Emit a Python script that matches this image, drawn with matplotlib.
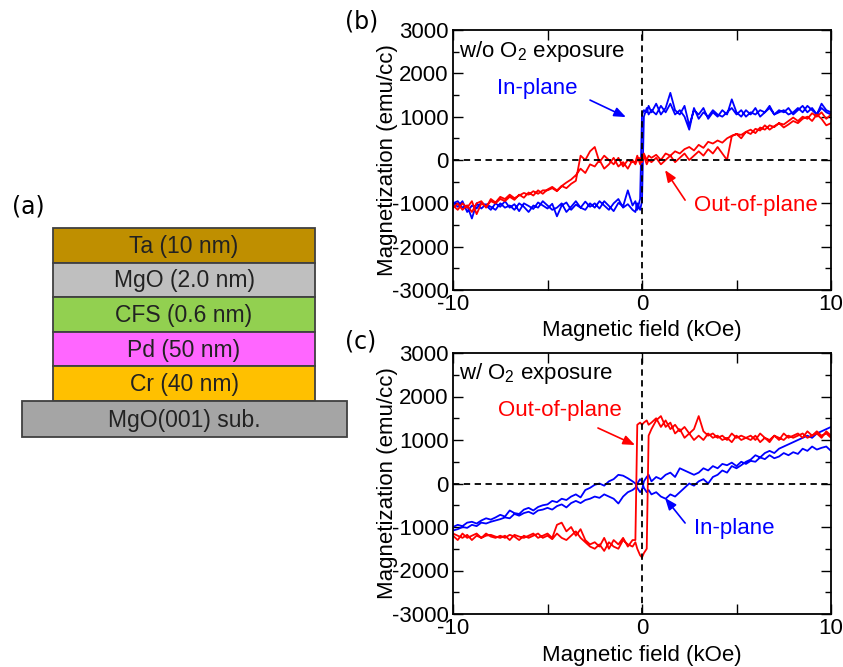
import matplotlib
matplotlib.use('Agg')
import matplotlib.pyplot as plt
from matplotlib.patches import Rectangle

plt.rcParams['font.family'] = ['Liberation Sans', 'DejaVu Sans']
plt.rcParams['mathtext.fontset'] = 'custom'
plt.rcParams['mathtext.rm'] = 'Liberation Sans'
plt.rcParams['mathtext.default'] = 'regular'
plt.rcParams['axes.unicode_minus'] = False

# film stack, top to bottom
layers = ['Ta (10 nm)', 'MgO (2.0 nm)', 'CFS (0.6 nm)', 'Pd (50 nm)', 'Cr (40 nm)']
layer_colors = ['#bf8f00', '#bfbfbf', '#92d050', '#ff66ff', '#ffc000']
substrate = 'MgO(001) sub.'
substrate_color = '#a5a5a5'

# field grid (kOe), shared by all sweeps
field = [-10, -9.75, -9.5, -9.25, -9, -8.75, -8.5, -8.25, -8, -7.75,
         -7.5, -7.25, -7, -6.75, -6.5, -6.25, -6, -5.75, -5.5, -5.25,
         -5, -4.75, -4.5, -4.25, -4, -3.75, -3.5, -3.25, -3, -2.75,
         -2.5, -2.25, -2, -1.75, -1.5, -1.25, -1, -0.75, -0.5,
         -0.35, -0.25, -0.1, 0, 0.1, 0.25, 0.35,
         0.5, 0.75, 1, 1.25, 1.5, 1.75, 2, 2.25, 2.5, 2.75,
         3, 3.25, 3.5, 3.75, 4, 4.25, 4.5, 4.75, 5, 5.25,
         5.5, 5.75, 6, 6.25, 6.5, 6.75, 7, 7.25, 7.5, 7.75,
         8, 8.25, 8.5, 8.75, 9, 9.25, 9.5, 9.75, 10]

# (b) w/o O2 exposure, emu/cc ; "down" = sweep from +10, "up" = sweep from -10
b_inplane_down = [-980, -1080, -950, -1200, -1050, -1120, -980, -1050, -1150, -1000,
                  -1080, -950, -1100, -1020, -1180, -1000, -1060, -1130, -980, -1050,
                  -1120, -1010, -1300, -1050, -980, -1150, -1030, -1100, -960, -1080,
                  -1000, -1120, -950, -1060, -1180, -990, -1070, -700, -1050,
                  -950, -1150, -900, 1050, 1150, 1100, 1250,
                  1100, 1300, 1050, 1200, 1550, 1150, 1050, 1250, 800, 1150,
                  1050, 1200, 950, 1100, 1000, 1150, 1050, 1400, 1100, 1000,
                  1150, 1050, 1200, 1000, 1100, 1250, 1050, 1150, 1100, 1200,
                  1050, 1150, 1250, 1100, 1200, 1050, 1300, 1150, 1100]
b_inplane_up = [-1000, -950, -1100, -1050, -1350, -1000, -1120, -1020, -1080, -1150,
                -1000, -1100, -1050, -1150, -1000, -1080, -1200, -1050, -1100, -950,
                -1050, -1150, -1100, -1000, -1200, -1080, -950, -1100, -1150, -1000,
                -1100, -950, -1050, -1150, -1000, -900, -1100, -1020, -1150,
                -1200, -1000, -1150, -950, 1000, 1200, 1050,
                1150, 1050, 1250, 1100, 1300, 1050, 1150, 1000, 700, 1200,
                950, 1100, 1000, 1150, 1050, 1000, 1100, 1200, 1050, 1150,
                1000, 1100, 1050, 1150, 1100, 1200, 1050, 1100, 1150, 1050,
                1100, 1200, 1100, 1250, 1150, 1050, 1200, 1100, 1050]
b_outplane_down = [-1100, -1000, -1150, -1050, -1200, -1000, -950, -1100, -900, -980,
                   -850, -900, -800, -880, -820, -760, -800, -720, -780, -700,
                   -700, -650, -720, -600, -650, -550, -480, 100, 0, 200,
                   300, -50, 100, 0, -100, 50, -150, 0, -50,
                   -50, 100, -100, 50, 150, 0, 100,
                   50, 120, 0, 150, 100, 200, 150, 250, 300, 220,
                   350, 280, 420, 380, 450, 400, 500, 560, 600, 580,
                   650, 700, 620, 750, 700, 800, 760, 850, 820, 900,
                   980, 900, 1000, 950, 1080, 1000, 1100, 950, 1050]
b_outplane_up = [-1050, -1150, -1000, -1100, -950, -1250, -1000, -1080, -950, -1000,
                 -900, -950, -850, -920, -800, -870, -750, -820, -700, -780,
                 -680, -620, -700, -600, -520, -450, -350, -200, -300, -100,
                 -150, 0, -200, -100, 50, -150, -50, -200, 0,
                 -100, 0, 50, -50, 100, -100, 0,
                 -50, 50, -100, 0, 100, -50, 50, 150, 0, 100,
                 200, 100, 250, 150, 300, 150, 0, 550, 600, 500,
                 650, 600, 720, 680, 800, 700, 780, 850, 750, 820,
                 900, 850, 950, 1000, 900, 1050, 950, 800, 850]

# (c) w/ O2 exposure
c_inplane_down = [-1000, -950, -980, -900, -880, -920, -850, -800, -830, -780,
                  -720, -760, -620, -680, -700, -600, -560, -620, -540, -500,
                  -480, -400, -430, -350, -380, -300, -250, -320, -150, -100,
                  -30, 0, -50, 50, 100, 200, 180, 120, 50,
                  0, -100, -200, -150, 50, 150, 200,
                  50, 150, 100, 200, 250, 150, 350, 300, 250, 200,
                  250, 350, 300, 400, 350, 450, 420, 480, 400, 500,
                  450, 520, 500, 600, 560, 650, 580, 620, 700, 650,
                  720, 680, 800, 750, 850, 780, 820, 850, 750]
c_inplane_up = [-1080, -1050, -1000, -1020, -950, -980, -900, -920, -880, -850,
                -820, -780, -800, -700, -740, -680, -650, -700, -620, -600,
                -560, -600, -520, -480, -550, -450, -400, -450, -380, -350,
                -300, -330, -250, -300, -350, -460, -300, -200, -150,
                -100, 0, 100, 50, -100, -200, -150,
                -250, -200, -300, -350, -250, -300, -200, -100, 0, -50,
                50, 100, 0, 150, 200, 300, 250, 400, 350, 420,
                500, 550, 650, 600, 700, 750, 700, 800, 850, 900,
                950, 1000, 1050, 1100, 1050, 1150, 1200, 1250, 1300]
c_outplane_down = [-1200, -1300, -1150, -1250, -1200, -1150, -1250, -1200, -1180, -1220,
                   -1250, -1200, -1300, -1180, -1220, -1250, -1200, -1150, -1250, -1200,
                   -1150, -1250, -950, -900, -1100, -1000, -1200, -1050, -1300, -1400,
                   -1350, -1450, -1250, -1500, -1300, -1400, -1250, -1450, -1300,
                   -1300, 1350, 1400, 1350, 1400, 1450, 1350,
                   1400, 1500, 1300, 1450, 1250, 1350, 1200, 1300, 1150, 1250,
                   1550, 1200, 1100, 1150, 1050, 1100, 1000, 1150, 1050, 1100,
                   1050, 1100, 1000, 1150, 1050, 950, 1100, 1000, 1150, 1050,
                   1100, 1150, 1050, 1200, 1100, 1150, 1050, 1200, 1100]
c_outplane_up = [-1150, -1200, -1250, -1180, -1300, -1200, -1250, -1150, -1220, -1250,
                 -1200, -1250, -1180, -1220, -1300, -1200, -1250, -1200, -1150, -1250,
                 -1200, -1280, -1150, -1250, -1300, -1200, -1100, -1250, -1350, -1450,
                 -1500, -1400, -1550, -1350, -1450, -1500, -1300, -1400, -1450,
                 -1350, -1500, -1650, -1700, -1600, -1500, 1100,
                 1250, 1450, 1550, 1300, 1400, 1150, 1250, 1050, 1150, 1000,
                 1100, 1000, 1150, 1050, 1100, 1000, 1050, 950, 1100, 1000,
                 1050, 1000, 1100, 950, 1050, 1000, 1100, 1050, 1000, 1100,
                 1050, 1100, 1150, 1050, 1100, 1200, 1100, 1150, 1050]

fig = plt.figure(figsize=(8.43, 6.67), dpi=100)
W, H = 843, 667

# ---- (a) layer stack, drawn in pixel units
ax_a = fig.add_axes([0, 0, 1, 1])
ax_a.set_xlim(0, W)
ax_a.set_ylim(H, 0)
ax_a.axis('off')
top, lh = 228, 34.6
for i, (name, col) in enumerate(zip(layers, layer_colors)):
    y0 = top + i * lh
    ax_a.add_patch(Rectangle((53, y0), 262, lh, fc=col, ec='#404040', lw=1.3))
    ax_a.text(184, y0 + lh / 2 + 1, name, ha='center', va='center', fontsize=16.5, color='#222222')
sub_y = top + len(layers) * lh
ax_a.add_patch(Rectangle((22, sub_y), 325, 36, fc=substrate_color, ec='#404040', lw=1.3))
ax_a.text(184, sub_y + 19, substrate, ha='center', va='center', fontsize=16.5, color='#222222')


def loop(ax, down, up, color):
    # down sweep (+10 -> -10) then up sweep (-10 -> +10)
    ax.plot(field[::-1] + field, down[::-1] + up, color=color, lw=1.3, zorder=2)


def style(ax):
    ax.set_xlim(-10, 10)
    ax.set_ylim(-3000, 3000)
    ax.set_xticks([-10, -5, 0, 5, 10], labels=['-10', '', '0', '', '10'])
    ax.set_yticks(range(-3000, 3001, 1000))
    ax.set_yticks(range(-2500, 3000, 1000), minor=True)
    ax.tick_params(direction='in', top=True, right=True, labelsize=16, length=7, width=1, pad=3)
    ax.tick_params(which='minor', direction='in', right=True, length=4, width=1)
    for s in ax.spines.values():
        s.set_linewidth(1.3)
    ax.axhline(0, color='k', lw=1.3, ls=(0, (3.5, 2.5)), zorder=3)
    ax.axvline(0, color='k', lw=1.3, ls=(0, (3.5, 2.5)), zorder=3)
    ax.set_xlabel('Magnetic field (kOe)', fontsize=16)
    ax.set_ylabel('Magnetization (emu/cc)', fontsize=16)
    ax.yaxis.set_label_coords(-0.145, 0.5)


arrow = dict(arrowstyle='-|>,head_length=0.5,head_width=0.2', lw=1.2, mutation_scale=14,
             shrinkA=0, shrinkB=0)

# ---- (b)
ax_b = fig.add_axes([453 / W, 1 - 290 / H, 378 / W, 260 / H])
loop(ax_b, b_inplane_down, b_inplane_up, 'blue')
loop(ax_b, b_outplane_down, b_outplane_up, 'red')
style(ax_b)
ax_b.xaxis.set_label_coords(0.5, -0.115)
ax_b.text(-9.7, 2500, 'w/o O$_2$ exposure', ha='left', va='center', fontsize=16)
ax_b.annotate('', xy=(-0.85, 990), xytext=(-2.75, 1383), arrowprops=dict(arrow, color='blue'))
ax_b.text(-5.56, 1660, 'In-plane', color='blue', ha='center', va='center', fontsize=16)
ax_b.annotate('', xy=(1.22, -233), xytext=(2.28, -926), arrowprops=dict(arrow, color='red'))
ax_b.text(6.03, -1040, 'Out-of-plane', color='red', ha='center', va='center', fontsize=16)

# ---- (c)
ax_c = fig.add_axes([453 / W, 1 - 614 / H, 378 / W, 261 / H])
loop(ax_c, c_inplane_down, c_inplane_up, 'blue')
loop(ax_c, c_outplane_down, c_outplane_up, 'red')
style(ax_c)
ax_c.xaxis.set_label_coords(0.5, -0.119)
ax_c.text(-9.7, 2540, 'w/ O$_2$ exposure', ha='left', va='center', fontsize=16)
ax_c.annotate('', xy=(-0.37, 885), xytext=(-2.33, 1276), arrowprops=dict(arrow, color='red'))
ax_c.text(-4.37, 1667, 'Out-of-plane', color='red', ha='center', va='center', fontsize=16)
ax_c.annotate('', xy=(1.22, -333), xytext=(2.28, -908), arrowprops=dict(arrow, color='blue'))
ax_c.text(4.87, -1023, 'In-plane', color='blue', ha='center', va='center', fontsize=16)

# panel labels
for lab, x, y in [('(a)', 12, 207), ('(b)', 345, 21), ('(c)', 345, 342)]:
    fig.text(x / W, 1 - y / H, lab, ha='left', va='center', fontsize=17, family='DejaVu Sans')

fig.savefig('out.png', dpi=100)
